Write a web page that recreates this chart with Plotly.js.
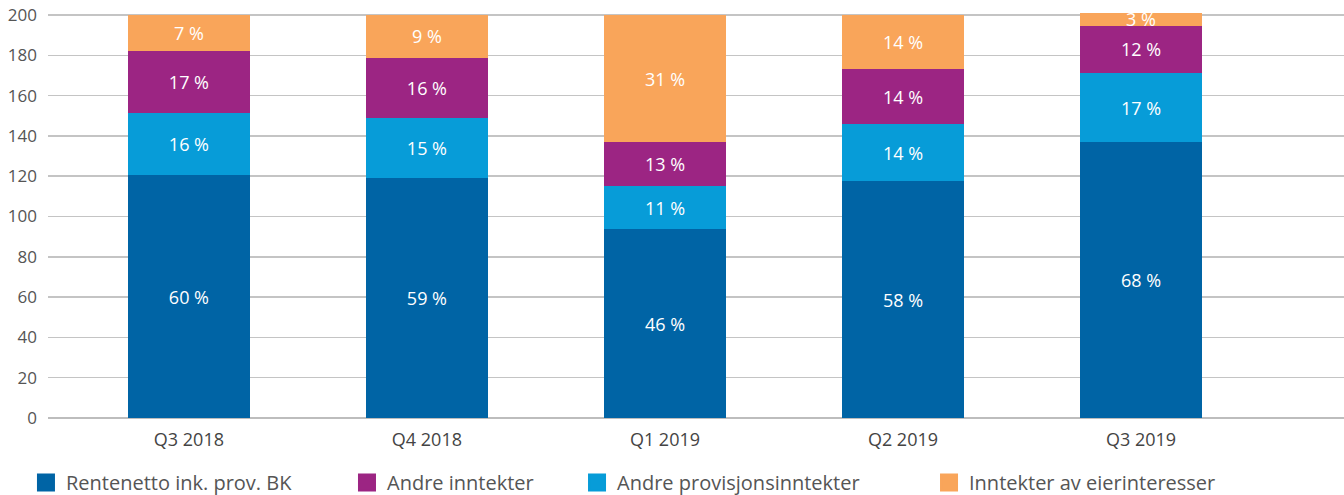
<!DOCTYPE html>
<html>
<head>
<meta charset="utf-8">
<script src="https://cdn.plot.ly/plotly-3.0.1.min.js"></script>
<style>html,body{margin:0;padding:0;background:#fff;}#chart{width:1344px;height:495px;}</style>
</head>
<body>
<div id="chart"></div>
<script>
var categories = ["Q3 2018", "Q4 2018", "Q1 2019", "Q2 2019", "Q3 2019"];
var seriesNames = ["Rentenetto ink. prov. BK", "Andre provisjonsinntekter", "Andre inntekter", "Inntekter av eierinteresser"];
var renteValues = [120.5, 119.0, 93.7, 117.6, 136.9];
var provisjonValues = [30.8, 29.8, 21.4, 28.3, 34.3];
var andreValues = [30.8, 29.9, 21.9, 27.3, 23.4];
var eierValues = [17.9, 21.3, 63.0, 26.8, 6.4];
var rentePct = [60, 59, 46, 58, 68];
var provisjonPct = [16, 15, 11, 14, 17];
var andrePct = [17, 16, 13, 14, 12];
var eierPct = [7, 9, 31, 14, 3];
var colors = ["#0064A5", "#079CD8", "#9C2583", "#F9A55A"];
var legendIds = ["legend", "legend3", "legend2", "legend4"];

var valueSets = [renteValues, provisjonValues, andreValues, eierValues];
var pctSets = [rentePct, provisjonPct, andrePct, eierPct];

var traces = valueSets.map(function (vals, i) {
  return {
    type: "bar",
    name: seriesNames[i],
    x: categories,
    y: vals,
    text: pctSets[i].map(function (p) { return p + " %"; }),
    textposition: "inside",
    insidetextanchor: "middle",
    textangle: 0,
    textfont: {family: "Open Sans, sans-serif", size: 18, color: "#ffffff"},
    marker: {color: colors[i], line: {width: 0}},
    width: 0.513,
    showlegend: false,
    hoverinfo: "skip",
    cliponaxis: true
  };
});

// legend-only entries (larger square swatches)
seriesNames.forEach(function (nm, i) {
  traces.push({
    type: "scatter",
    mode: "markers",
    name: nm,
    x: [null],
    y: [null],
    marker: {symbol: "square", size: 16, color: colors[i], line: {color: colors[i], width: 2}},
    legend: legendIds[i],
    showlegend: true,
    hoverinfo: "skip"
  });
});

function legendAt(xp) {
  return {
    orientation: "h",
    x: xp,
    xanchor: "left",
    xref: "paper",
    yref: "container",
    y: 0.0646,
    yanchor: "top",
    font: {family: "Open Sans, sans-serif", size: 20, color: "#555555"},
    itemwidth: 30,
    bgcolor: "rgba(0,0,0,0)",
    borderwidth: 0
  };
}

var layout = {
  width: 1344,
  height: 495,
  barmode: "stack",
  margin: {l: 48, r: 0, t: 11, b: 77},
  paper_bgcolor: "#ffffff",
  plot_bgcolor: "#ffffff",
  font: {family: "Open Sans, sans-serif", color: "#555555"},
  uniformtext: {mode: "show", minsize: 18},
  xaxis: {
    type: "category",
    range: [-0.592, 4.853],
    showgrid: false,
    zeroline: false,
    showline: false,
    ticks: "",
    ticklabelstandoff: 9,
    tickfont: {family: "Open Sans, sans-serif", size: 18, color: "#444444"},
    fixedrange: true
  },
  yaxis: {
    range: [0, 202],
    tickvals: [0, 20, 40, 60, 80, 100, 120, 140, 160, 180, 200],
    showgrid: true,
    gridcolor: "#C4C4C4",
    gridwidth: 1.5,
    zeroline: true,
    zerolinecolor: "#BDBDBD",
    zerolinewidth: 2,
    showline: false,
    ticks: "",
    ticklabelstandoff: 10,
    tickfont: {family: "Open Sans, sans-serif", size: 17, color: "#555555"},
    fixedrange: true,
    layer: "below traces"
  },
  showlegend: true,
  legend: legendAt(-0.017),
  legend2: legendAt(0.2307),
  legend3: legendAt(0.4082),
  legend4: legendAt(0.6798)
};

Plotly.newPlot("chart", traces, layout, {displayModeBar: false, staticPlot: true});
</script>
</body>
</html>
